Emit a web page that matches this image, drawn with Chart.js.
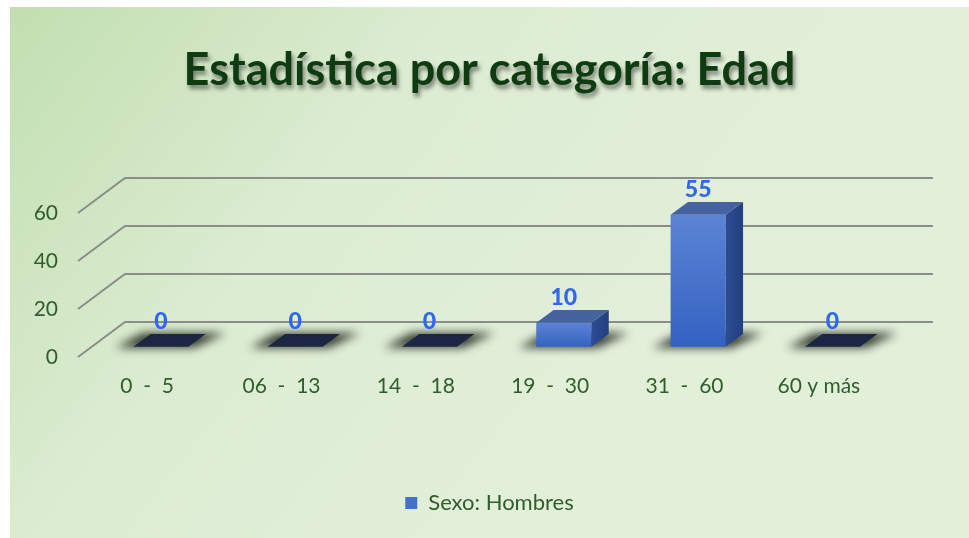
<!DOCTYPE html>
<html>
<head>
<meta charset="utf-8">
<script src="https://cdn.jsdelivr.net/npm/chart.js@4/dist/chart.umd.min.js"></script>
<style>
html, body { margin: 0; padding: 0; background: #fff; }
canvas { display: block; }
</style>
</head>
<body>
<canvas id="grafico" width="969" height="538"></canvas>
<script>
const categorias = ["0  -  5", "06  -  13", "14  -  18", "19  -  30", "31  -  60", "60 y más"];
const hombres = [0, 0, 0, 10, 55, 0];
const ticksY = [0, 20, 40, 60];

// profundidad del "3D" (pared del fondo)
const PROF_X = 47;
const PROF_Y = -35;
// las barras ocupan esta parte de la profundidad
const BARRA_INI = 0.29;
const BARRA_FIN = 0.66;

const verde = "#2f5e2c";

function poligono(ctx, pts, relleno) {
    ctx.beginPath();
    ctx.moveTo(pts[0][0], pts[0][1]);
    for (let i = 1; i < pts.length; i++) ctx.lineTo(pts[i][0], pts[i][1]);
    ctx.closePath();
    ctx.fillStyle = relleno;
    ctx.fill();
}

const efecto3d = {
    id: "efecto3d",
    beforeDraw(chart) {
        const ctx = chart.ctx;
        ctx.save();
        ctx.fillStyle = "#fff";
        ctx.fillRect(0, 0, chart.width, chart.height);
        const g = ctx.createLinearGradient(10, 7, 560, 440);
        g.addColorStop(0, "#c2dfb0");
        g.addColorStop(0.5, "#dcecd2");
        g.addColorStop(1, "#e2efd9");
        ctx.fillStyle = g;
        ctx.fillRect(10, 7, chart.width - 10, chart.height - 7);

        // sombra del titulo
        const t = chart.titleBlock;
        if (t) {
            const f = Chart.helpers.toFont(t.options.font);
            const pad = Chart.helpers.toPadding(t.options.padding);
            ctx.font = f.string;
            ctx.textAlign = "center";
            ctx.textBaseline = "middle";
            ctx.fillStyle = "rgba(40,40,40,0.55)";
            ctx.filter = "blur(2px)";
            ctx.fillText(t.options.text, t.left + t.width / 2 + 2, t.top + pad.top + f.lineHeight / 2 + 4);
            ctx.filter = "none";
        }
        ctx.restore();
    },
    beforeDatasetsDraw(chart) {
        const ctx = chart.ctx;
        const area = chart.chartArea;
        const y = chart.scales.y;

        // lineas de la cuadricula: diagonal izquierda + pared del fondo
        ctx.save();
        ctx.strokeStyle = "#8b8d8a";
        ctx.lineWidth = 2;
        y.ticks.forEach(tk => {
            const py = y.getPixelForValue(tk.value);
            ctx.beginPath();
            ctx.moveTo(area.left - 2, py);
            ctx.lineTo(area.left - 2 + PROF_X, py + PROF_Y);
            ctx.lineTo(area.right + PROF_X, py + PROF_Y);
            ctx.stroke();
        });

        const meta = chart.getDatasetMeta(0);
        const fdx = PROF_X * BARRA_INI, fdy = PROF_Y * BARRA_INI;
        const ddx = PROF_X * (BARRA_FIN - BARRA_INI), ddy = PROF_Y * (BARRA_FIN - BARRA_INI);

        // sombras
        meta.data.forEach(el => {
            const x0 = el.x - el.width / 2 + fdx, x1 = el.x + el.width / 2 + fdx;
            const b = el.base + fdy;
            ctx.filter = "blur(5px)";
            poligono(ctx, [[x0 - 18, b + 1], [x1 + 6, b + 1], [x1 + ddx + 20, b + ddy - 1], [x0 + ddx - 8, b + ddy - 1]], "rgba(10,15,5,0.8)");
            ctx.filter = "none";
        });

        // barras
        meta.data.forEach((el, i) => {
            const x0 = el.x - el.width / 2 + fdx, x1 = el.x + el.width / 2 + fdx;
            const b = el.base + fdy;
            const top = el.y + fdy;
            if (hombres[i] === 0) {
                poligono(ctx, [[x0, b], [x1, b], [x1 + ddx, b + ddy], [x0 + ddx, b + ddy]], "#1c2643");
            } else {
                const gf = ctx.createLinearGradient(0, top, 0, b);
                gf.addColorStop(0, "#5b84d4");
                gf.addColorStop(1, "#3462c2");
                poligono(ctx, [[x0, top], [x1, top], [x1, b], [x0, b]], gf);
                const gl = ctx.createLinearGradient(x1, 0, x1 + ddx, 0);
                gl.addColorStop(0, "#2c4c94");
                gl.addColorStop(1, "#233f7f");
                poligono(ctx, [[x1, top], [x1 + ddx, top + ddy], [x1 + ddx, b + ddy], [x1, b]], gl);
                poligono(ctx, [[x0, top], [x1, top], [x1 + ddx, top + ddy], [x0 + ddx, top + ddy]], "#46639f");
            }
        });

        // etiquetas de datos
        ctx.font = "900 23px Lato";
        ctx.textAlign = "center";
        ctx.textBaseline = "bottom";
        ctx.fillStyle = "#2c68f2";
        meta.data.forEach((el, i) => {
            ctx.fillText(String(hombres[i]), el.x + fdx, el.y + fdy + ddy - 1);
        });
        ctx.restore();
        return false;
    }
};

new Chart(document.getElementById("grafico"), {
    type: "bar",
    data: {
        labels: categorias,
        datasets: [{
            label: "Sexo: Hombres",
            data: hombres,
            backgroundColor: "#4472c4",
            borderWidth: 0,
            barPercentage: 0.41,
            categoryPercentage: 1
        }]
    },
    options: {
        responsive: false,
        animation: false,
        layout: { padding: { left: 10, right: 0, top: 0, bottom: 14 } },
        plugins: {
            title: {
                display: true,
                text: "Estadística por categoría: Edad",
                color: "#0f3b10",
                font: { family: "Lato", size: 45, weight: "bold", lineHeight: 1.2 },
                padding: { top: 43, bottom: 116 }
            },
            legend: {
                position: "bottom",
                labels: {
                    color: verde,
                    font: { family: "Lato", size: 22 },
                    boxWidth: 12,
                    boxHeight: 12,
                    padding: 10
                }
            },
            tooltip: { enabled: false }
        },
        scales: {
            x: {
                grid: { display: false, drawTicks: false },
                border: { display: false },
                ticks: { color: verde, font: { family: "Lato", size: 21 }, padding: 17, maxRotation: 0 },
                afterFit(s) { s.height = 125; }
            },
            y: {
                min: 0,
                max: 60,
                afterBuildTicks(s) { s.ticks = ticksY.map(v => ({ value: v })); },
                grid: { display: false, drawTicks: false },
                border: { display: false },
                ticks: { color: verde, font: { family: "Lato", size: 21 }, padding: 22 },
                afterFit(s) { s.width = 70; }
            },
            // eje vacio a la derecha para dejar sitio a la pared del fondo
            derecha: {
                position: "right",
                grid: { display: false, drawTicks: false },
                border: { display: false },
                ticks: { display: false },
                afterFit(s) { s.width = 83; }
            }
        }
    },
    plugins: [efecto3d]
});
</script>
</body>
</html>
